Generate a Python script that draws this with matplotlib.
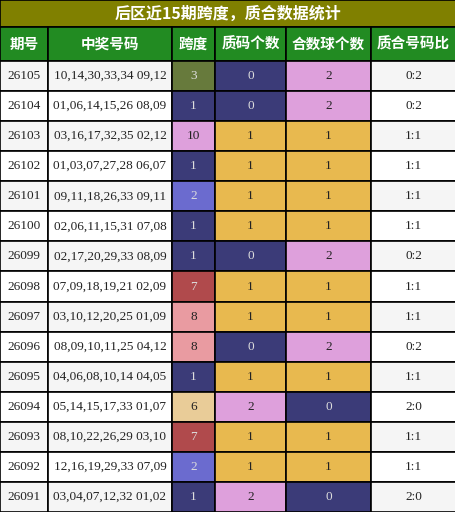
import matplotlib
matplotlib.use('Agg')
import matplotlib.pyplot as plt
from matplotlib.patches import Rectangle

title = '后区近15期跨度，质合数据统计'
headers = ['期号', '中奖号码', '跨度', '质码个数', '合数球个数', '质合号码比']
issues = ['26105', '26104', '26103', '26102', '26101', '26100', '26099', '26098',
          '26097', '26096', '26095', '26094', '26093', '26092', '26091']
numbers = ['10,14,30,33,34 09,12', '01,06,14,15,26 08,09', '03,16,17,32,35 02,12',
           '01,03,07,27,28 06,07', '09,11,18,26,33 09,11', '02,06,11,15,31 07,08',
           '02,17,20,29,33 08,09', '07,09,18,19,21 02,09', '03,10,12,20,25 01,09',
           '08,09,10,11,25 04,12', '04,06,08,10,14 04,05', '05,14,15,17,33 01,07',
           '08,10,22,26,29 03,10', '12,16,19,29,33 07,09', '03,04,07,12,32 01,02']
spans = [3, 1, 10, 1, 2, 1, 1, 7, 8, 8, 1, 6, 7, 2, 1]
primes = [0, 0, 1, 1, 1, 1, 0, 1, 1, 0, 1, 2, 1, 1, 2]
composites = [2, 2, 1, 1, 1, 1, 2, 1, 1, 2, 1, 0, 1, 1, 0]

span_colors = {1: '#3b3b78', 2: '#6b6bcf', 3: '#677a3c', 6: '#e9cc98',
               7: '#b04a4c', 8: '#e99ba1', 10: '#dea0dc'}
count_colors = {0: '#3b3b78', 1: '#e8b94f', 2: '#dea0dc'}
dark = {'#3b3b78', '#6b6bcf', '#677a3c', '#b04a4c'}

col_x = [0, 48, 172, 215, 286, 371, 456]
W, H = 456, 512
title_h, head_h = 27, 34
row_h = (H - title_h - head_h) / 15

fig = plt.figure(figsize=(4.56, 5.12), dpi=100)
ax = fig.add_axes([0, 0, 1, 1])
ax.set_xlim(0, W)
ax.set_ylim(H, 0)
ax.axis('off')

cjk = ['Noto Sans CJK SC', 'DejaVu Sans']
serif = ['Liberation Serif', 'DejaVu Serif']

def cell(x0, x1, y0, h, fc, text, color, font, size, weight='normal'):
    ax.add_patch(Rectangle((x0, y0), x1 - x0, h, facecolor=fc, edgecolor='black', lw=1.2))
    ax.text((x0 + x1) / 2, y0 + h / 2, text, ha='center', va='center',
            color=color, family=font, fontsize=size, fontweight=weight)

cell(0, W, 0, title_h, '#808000', title, 'white', cjk, 11.5, 'bold')
for i, hd in enumerate(headers):
    cell(col_x[i], col_x[i + 1], title_h, head_h, '#228b22', hd, 'white', cjk, 10.5, 'bold')

for r in range(15):
    y = title_h + head_h + r * row_h
    base = '#f5f5f5' if r % 2 == 0 else 'white'
    sc = span_colors[spans[r]]
    pc = count_colors[primes[r]]
    cc = count_colors[composites[r]]
    vals = [(issues[r], base), (numbers[r], base), (str(spans[r]), sc),
            (str(primes[r]), pc), (str(composites[r]), cc),
            ('%d:%d' % (primes[r], composites[r]), base)]
    for i, (t, fc) in enumerate(vals):
        tc = '#dddddd' if fc in dark else '#222222'
        cell(col_x[i], col_x[i + 1], y, row_h, fc, t, tc, serif, 9.5)

fig.savefig('out.png', dpi=100)
